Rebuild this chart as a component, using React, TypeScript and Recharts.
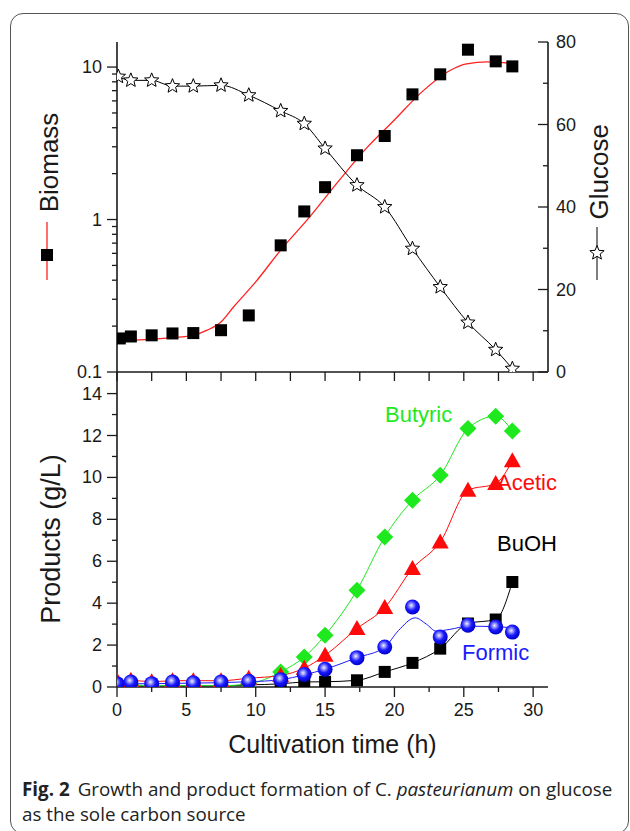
import React from 'react';
import { ComposedChart, Line, Scatter, XAxis, YAxis } from 'recharts';

const AX = '#1a1a1a';
const TXT = '#1a1a1a';
const FONT = '"Liberation Sans", Arial, sans-serif';
const CAP_FONT = '"Open Sans", "Noto Sans", sans-serif';

// ---------- data ----------
const xTicks = [0, 2.5, 5, 7.5, 10, 12.5, 15, 17.5, 20, 22.5, 25, 27.5, 30];
const xMajorLabels = [0, 5, 10, 15, 20, 25, 30];
const bioTicks = [0.1, 0.2, 0.3, 0.4, 0.5, 0.6, 0.7, 0.8, 0.9, 1, 2, 3, 4, 5, 6, 7, 8, 9, 10];
const bioLabels = [0.1, 1, 10];
const gluTicks = [0, 10, 20, 30, 40, 50, 60, 70, 80];
const gluLabels = [0, 20, 40, 60, 80];
const prodTicks = [0, 1, 2, 3, 4, 5, 6, 7, 8, 9, 10, 11, 12, 13, 14];
const prodLabels = [0, 2, 4, 6, 8, 10, 12, 14];

const biomassTimes = [0.2, 1, 2.5, 4, 5.5, 7.5, 9.5, 11.8, 13.5, 15, 17.3, 19.3, 21.3, 23.3, 25.3, 27.3, 28.5];
const biomassValues = [0.166, 0.171, 0.174, 0.179, 0.18, 0.188, 0.235, 0.677, 1.13, 1.63, 2.64, 3.53, 6.62, 8.96, 13.0, 10.9, 10.1];

const biomassFitTimes = [0, 2, 4, 5.5, 6.5, 7.5, 8.4, 10, 11.8, 14, 16, 18, 20, 22, 24, 25.2, 26.7, 28.8];
const biomassFitValues = [0.16, 0.163, 0.168, 0.174, 0.188, 0.213, 0.267, 0.39, 0.63, 1.07, 1.8, 2.95, 4.5, 6.9, 9.5, 10.5, 10.8, 10.5];

const glucoseTimes = [0.1, 1, 2.5, 4, 5.5, 7.5, 9.5, 11.8, 13.5, 15, 17.3, 19.3, 21.3, 23.3, 25.3, 27.3, 28.5];
const glucoseValues = [71.6, 70.7, 70.7, 69.3, 69.3, 69.5, 67.1, 63.3, 60.2, 54.2, 45.3, 40.0, 29.9, 20.6, 12.0, 5.4, 0.8];

const sampleTimes = [0, 1, 2.5, 4, 5.5, 7.5, 9.5, 11.8, 13.5, 15, 17.3, 19.3, 21.3, 23.3, 25.3, 27.3, 28.5];
const butyricValues = [0.1, 0.1, 0.06, 0.06, 0.06, 0.06, 0.15, 0.72, 1.43, 2.47, 4.62, 7.16, 8.91, 10.1, 12.33, 12.92, 12.22];
const aceticValues = [0.3, 0.32, 0.25, 0.3, 0.3, 0.3, 0.42, 0.55, 0.9, 1.51, 2.79, 3.79, 5.65, 6.92, 9.39, 9.71, 10.79];
const buohValues = [0.05, 0.05, 0.05, 0.05, 0.05, 0.05, 0.1, 0.15, 0.24, 0.25, 0.32, 0.72, 1.15, 1.83, 3.03, 3.22, 5.01];
const formicValues = [0.16, 0.24, 0.16, 0.24, 0.2, 0.24, 0.27, 0.35, 0.6, 0.85, 1.4, 1.91, 3.82, 2.39, 2.95, 2.86, 2.62];

const formicFitTimes = [0, 5, 9.5, 11.8, 13.5, 15, 17.3, 19.3, 20.3, 21.5, 22.3, 23.0, 24.0, 25.3, 27.3, 28.5];
const formicFitValues = [0.15, 0.18, 0.25, 0.35, 0.58, 0.85, 1.4, 1.9, 2.7, 3.3, 3.0, 2.67, 2.75, 2.9, 2.88, 2.82];

const zip = (ts: number[], vs: number[]) => ts.map((t, i) => ({ t, v: vs[i] }));

const biomassRows = zip(biomassTimes, biomassValues);
const biomassFitRows = zip(biomassFitTimes, biomassFitValues);
const glucoseRows = zip(glucoseTimes, glucoseValues);
const butyricRows = zip(sampleTimes, butyricValues);
const aceticRows = zip(sampleTimes, aceticValues);
const buohRows = zip(sampleTimes, buohValues);
const formicRows = zip(sampleTimes, formicValues);
const formicFitRows = zip(formicFitTimes, formicFitValues);

const X_MAX = 31.07;

// ---------- shapes ----------
const starPath = (cx: number, cy: number, R = 7.5, r = 3.3) => {
  let d = '';
  for (let i = 0; i < 10; i++) {
    const rad = i % 2 === 0 ? R : r;
    const a = -Math.PI / 2 + (i * Math.PI) / 5;
    d += (i === 0 ? 'M' : 'L') + (cx + rad * Math.cos(a)).toFixed(2) + ',' + (cy + rad * Math.sin(a)).toFixed(2);
  }
  return d + 'Z';
};

const near = (a: number, list: number[]) => list.some((m) => Math.abs(m - a) < 1e-9);

const SquareShape = (p: any) => (
  <rect x={p.cx - 6} y={p.cy - 6} width={12} height={12} fill="#000" />
);

const SphereShape = (p: any) => (
  <circle cx={p.cx} cy={p.cy} r={7.5} fill="url(#sphereGrad)" />
);

const starDot = (p: any) => (
  <path key={'s' + p.index} d={starPath(p.cx, p.cy)} fill="#fff" stroke="#000" strokeWidth={1} />
);
const squareDot = (p: any) => (
  <rect key={'q' + p.index} x={p.cx - 6} y={p.cy - 6} width={12} height={12} fill="#000" />
);
const diamondDot = (p: any) => (
  <path
    key={'d' + p.index}
    d={`M${p.cx},${p.cy - 8.5}L${p.cx + 8.5},${p.cy}L${p.cx},${p.cy + 8.5}L${p.cx - 8.5},${p.cy}Z`}
    fill="#1ee81e"
  />
);
const triangleDot = (p: any) => (
  <path
    key={'t' + p.index}
    d={`M${p.cx},${p.cy - 8.5}L${p.cx + 8.5},${p.cy + 6.5}L${p.cx - 8.5},${p.cy + 6.5}Z`}
    fill="#ff0a0a"
  />
);

// ---------- ticks ----------
const TopXTick = (p: any) => (
  <line x1={p.x} x2={p.x} y1={p.y} y2={p.y + 9} stroke={AX} strokeWidth={1.3} />
);

const BottomXTick = (p: any) => {
  const v = p.payload.value;
  const major = near(v, xMajorLabels);
  return (
    <g>
      <line x1={p.x} x2={p.x} y1={p.y} y2={p.y + (major ? 10 : 5)} stroke={AX} strokeWidth={1.3} />
      {major && (
        <text x={p.x} y={p.y + 23} textAnchor="middle" dominantBaseline="central" fontSize={18} fontFamily={FONT} fill={TXT}>
          {v}
        </text>
      )}
    </g>
  );
};

const LogTick = (p: any) => {
  const v = p.payload.value;
  const major = near(v, bioLabels);
  return (
    <g>
      <line x1={p.x} x2={p.x - (major ? 10 : 5)} y1={p.y} y2={p.y} stroke={AX} strokeWidth={1.3} />
      {major && (
        <text x={p.x - 15} y={p.y} textAnchor="end" dominantBaseline="central" fontSize={18} fontFamily={FONT} fill={TXT}>
          {v === 0.1 ? '0.1' : String(v)}
        </text>
      )}
    </g>
  );
};

const GluTick = (p: any) => {
  const v = p.payload.value;
  const major = near(v, gluLabels);
  return (
    <g>
      <line x1={p.x} x2={p.x - (major ? 10 : 5)} y1={p.y} y2={p.y} stroke={AX} strokeWidth={1.3} />
      {major && (
        <text x={p.x + 8} y={p.y} textAnchor="start" dominantBaseline="central" fontSize={18} fontFamily={FONT} fill={TXT}>
          {v}
        </text>
      )}
    </g>
  );
};

const ProdTick = (p: any) => {
  const v = p.payload.value;
  const major = near(v, prodLabels);
  return (
    <g>
      <line x1={p.x} x2={p.x - (major ? 10 : 5)} y1={p.y} y2={p.y} stroke={AX} strokeWidth={1.3} />
      {major && (
        <text x={p.x - 15} y={p.y} textAnchor="end" dominantBaseline="central" fontSize={18} fontFamily={FONT} fill={TXT}>
          {v}
        </text>
      )}
    </g>
  );
};

const axisLine = { stroke: AX, strokeWidth: 1.6 };

export default function App() {
  return (
    <div style={{ position: 'absolute', left: 0, top: 0, width: 630, height: 831, background: '#fff', overflow: 'hidden' }}>
      {/* frame */}
      <div
        style={{
          position: 'absolute',
          left: 10,
          top: 13,
          width: 619,
          height: 821,
          border: '1.5px solid #555',
          borderRadius: 13,
          boxSizing: 'border-box',
        }}
      />
      {/* annotations (beneath charts) */}
      <svg width={630} height={831} style={{ position: 'absolute', left: 0, top: 0 }}>
        <defs>
          <radialGradient id="sphereGrad" cx="42%" cy="40%" r="60%">
            <stop offset="0%" stopColor="#f0f0ff" />
            <stop offset="22%" stopColor="#9a9aff" />
            <stop offset="55%" stopColor="#1a1aff" />
            <stop offset="100%" stopColor="#0000c8" />
          </radialGradient>
        </defs>
        {/* Biomass title + legend */}
        <text transform="translate(58,162.5) rotate(-90)" textAnchor="middle" fontSize={26} fontFamily={FONT} fill={TXT}>
          Biomass
        </text>
        <line x1={47} x2={47} y1={222} y2={280} stroke="#ff2020" strokeWidth={1.3} />
        <rect x={41} y={249} width={12} height={12} fill="#000" />
        {/* Glucose title + legend */}
        <text transform="translate(608,171.7) rotate(-90)" textAnchor="middle" fontSize={26} fontFamily={FONT} fill={TXT}>
          Glucose
        </text>
        <line x1={597} x2={597} y1={227} y2={280} stroke="#000" strokeWidth={1} />
        <path d={starPath(597, 253)} fill="#fff" stroke="#000" strokeWidth={1} />
        {/* bottom panel titles */}
        <text transform="translate(59.5,539) rotate(-90)" textAnchor="middle" fontSize={27} fontFamily={FONT} fill={TXT}>
          Products (g/L)
        </text>
        <text x={332.5} y={753} textAnchor="middle" fontSize={25} fontFamily={FONT} fill={TXT}>
          Cultivation time (h)
        </text>
        {/* series labels */}
        <text x={385} y={422} fontSize={22} fontFamily={FONT} fill="#1ee81e">Butyric</text>
        <text x={497} y={490} fontSize={22} fontFamily={FONT} fill="#ff0a0a">Acetic</text>
        <text x={497} y={551} fontSize={22} fontFamily={FONT} fill="#000">BuOH</text>
        <text x={462} y={660} fontSize={22} fontFamily={FONT} fill="#1a1aff">Formic</text>
        {/* caption */}
        <text x={22} y={796} fontSize={18.8} fontFamily={CAP_FONT} fill="#222">
          <tspan fontWeight="bold">Fig. 2</tspan>
          <tspan dx={8}>Growth and product formation of C. </tspan>
          <tspan fontStyle="italic">pasteurianum</tspan>
          <tspan> on glucose</tspan>
        </text>
        <text x={22} y={821} fontSize={18.8} fontFamily={CAP_FONT} fill="#222">
          as the sole carbon source
        </text>
      </svg>

      {/* top panel */}
      <div style={{ position: 'absolute', left: 0, top: 0 }}>
        <ComposedChart width={630} height={382} margin={{ top: 42, right: 0, bottom: 0, left: 0 }}>
          <XAxis
            type="number"
            dataKey="t"
            domain={[0, X_MAX]}
            ticks={xTicks}
            allowDataOverflow
            height={10}
            tickSize={0}
            tickMargin={0}
            tickLine={false}
            tick={TopXTick}
            axisLine={axisLine}
          />
          <YAxis
            yAxisId="bio"
            orientation="left"
            scale="log"
            type="number"
            domain={[0.1, 14.6]}
            ticks={bioTicks}
            allowDataOverflow
            width={117}
            tickSize={0}
            tickMargin={0}
            tickLine={false}
            tick={LogTick}
            axisLine={axisLine}
            interval={0}
          />
          <YAxis
            yAxisId="glu"
            orientation="right"
            type="number"
            domain={[0, 80]}
            ticks={gluTicks}
            allowDataOverflow
            width={82}
            tickSize={0}
            tickMargin={0}
            tickLine={false}
            tick={GluTick}
            axisLine={axisLine}
            interval={0}
          />
          <Scatter yAxisId="bio" data={biomassRows} dataKey="v" shape={SquareShape} isAnimationActive={false} />
          <Line
            yAxisId="bio"
            data={biomassFitRows}
            dataKey="v"
            type="monotone"
            stroke="#ff2020"
            strokeWidth={1.3}
            dot={false}
            isAnimationActive={false}
          />
          <Line
            yAxisId="glu"
            data={glucoseRows}
            dataKey="v"
            type="monotone"
            stroke="#000"
            strokeWidth={1}
            dot={starDot}
            isAnimationActive={false}
          />
        </ComposedChart>
      </div>

      {/* bottom panel */}
      <div style={{ position: 'absolute', left: 0, top: 360 }}>
        <ComposedChart width={630} height={402} margin={{ top: 12, right: 82, bottom: 0, left: 0 }}>
          <XAxis
            type="number"
            dataKey="t"
            domain={[0, X_MAX]}
            ticks={xTicks}
            allowDataOverflow
            height={75}
            tickSize={0}
            tickMargin={0}
            tickLine={false}
            tick={BottomXTick}
            axisLine={axisLine}
            interval={0}
          />
          <YAxis
            type="number"
            domain={[0, 15.03]}
            ticks={prodTicks}
            allowDataOverflow
            width={117}
            tickSize={0}
            tickMargin={0}
            tickLine={false}
            tick={ProdTick}
            axisLine={axisLine}
            interval={0}
          />
          <Line data={buohRows} dataKey="v" type="monotone" stroke="#000" strokeWidth={1} dot={squareDot} isAnimationActive={false} />
          <Line data={butyricRows} dataKey="v" type="monotone" stroke="#1ee81e" strokeWidth={1} dot={diamondDot} isAnimationActive={false} />
          <Line data={aceticRows} dataKey="v" type="monotone" stroke="#ff0a0a" strokeWidth={1} dot={triangleDot} isAnimationActive={false} />
          <Line data={formicFitRows} dataKey="v" type="monotone" stroke="#1a1aff" strokeWidth={1} dot={false} isAnimationActive={false} />
          <Scatter data={formicRows} dataKey="v" shape={SphereShape} isAnimationActive={false} />
        </ComposedChart>
      </div>
    </div>
  );
}
